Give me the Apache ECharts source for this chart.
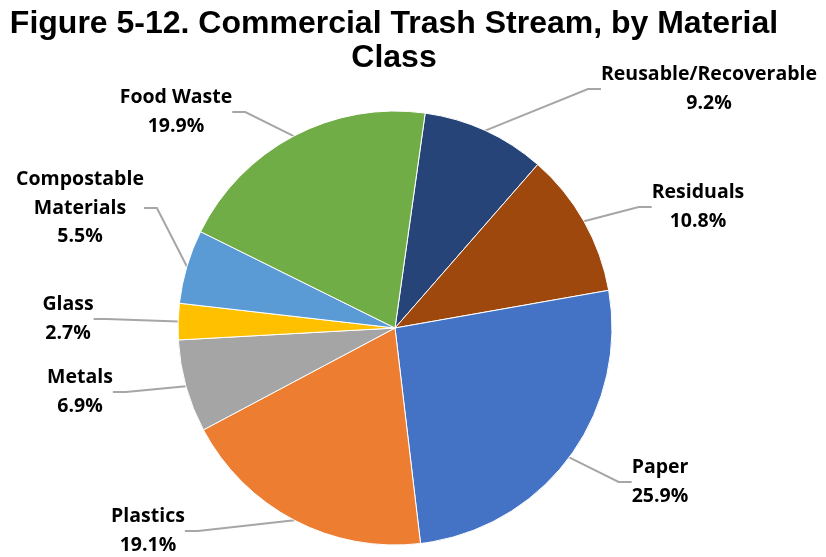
<!DOCTYPE html>
<html>
<head>
<meta charset="utf-8">
<script src="https://cdn.jsdelivr.net/npm/echarts@6/dist/echarts.min.js"></script>
<style>
  html, body { margin: 0; padding: 0; background: #fff; }
  #chart { width: 826px; height: 557px; }
</style>
</head>
<body>
<div id="chart"></div>
<script>
// Commercial trash stream shares (percent), clockwise from the top
const categories = [
  'Reusable/Recoverable', 'Residuals', 'Paper', 'Plastics',
  'Metals', 'Glass', 'Compostable Materials', 'Food Waste'
];
const shares = [9.2, 10.8, 25.9, 19.1, 6.9, 2.7, 5.5, 19.9];
const sliceColors = [
  '#264478', '#9E480E', '#4472C4', '#ED7D31',
  '#A5A5A5', '#FFC000', '#5B9BD5', '#70AD47'
];

// Where each data label sits (text block centre), by slice index
const labelAnchors = [
  [709, 89], [698, 207], [660, 482], [148, 531],
  [80, 392], [68, 319], [80, 208], [176, 112]
];

const chart = echarts.init(document.getElementById('chart'));
chart.setOption({
  animation: false,
  title: {
    text: 'Figure 5-12. Commercial Trash Stream, by Material\nClass',
    left: 394,
    textAlign: 'center',
    top: 7,
    padding: 0,
    textStyle: {
      fontFamily: '"Liberation Sans", Arial, sans-serif',
      fontWeight: 'bold',
      fontSize: 32,
      lineHeight: 34,
      color: '#000'
    }
  },
  series: [{
    type: 'pie',
    center: [395, 328],
    radius: [0, 217],
    startAngle: 82,
    clockwise: true,
    avoidLabelOverlap: false,
    itemStyle: { borderColor: '#fff', borderWidth: 1 },
    label: {
      show: true,
      formatter: p => p.name.replace('Compostable ', 'Compostable\n') + '\n' + p.value.toFixed(1) + '%',
      fontFamily: '"Open Sans", Lato, sans-serif',
      fontWeight: 'bold',
      fontSize: 19.5,
      lineHeight: 28.5,
      color: '#000',
      align: 'center'
    },
    labelLine: {
      show: true,
      length: 10,
      length2: 13,
      lineStyle: { color: '#A6A6A6', width: 2 }
    },
    labelLayout: params => {
      const a = labelAnchors[params.dataIndex];
      return { x: a[0], y: a[1], align: 'center', verticalAlign: 'middle' };
    },
    data: categories.map((name, i) => ({
      name: name,
      value: shares[i],
      itemStyle: { color: sliceColors[i] }
    }))
  }]
});
</script>
</body>
</html>
